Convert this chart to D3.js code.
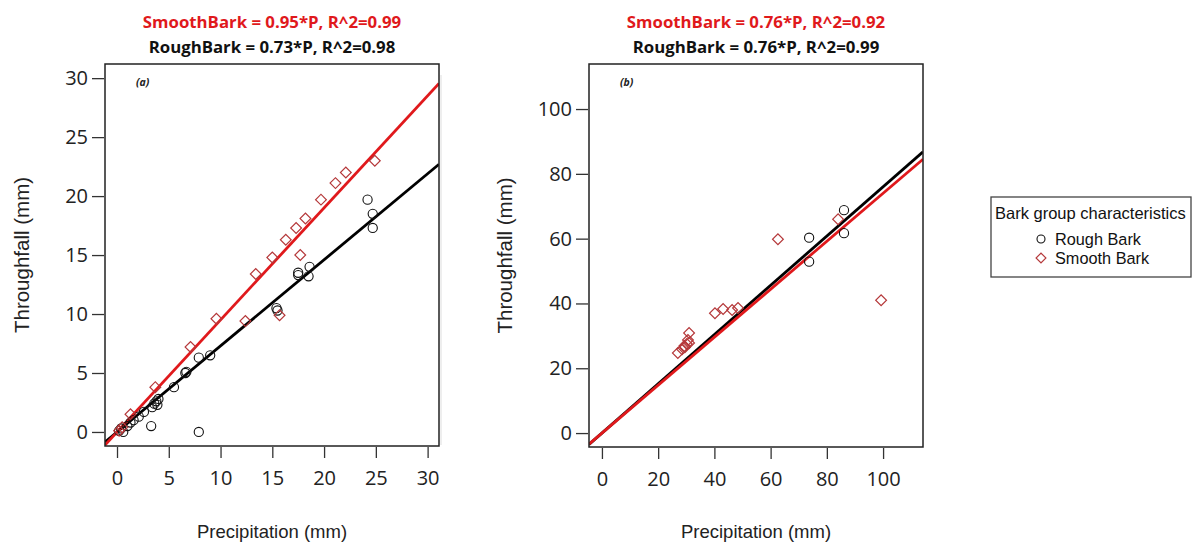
<!DOCTYPE html>
<html>
<head>
<meta charset="utf-8">
<script src="https://cdn.jsdelivr.net/npm/d3@7"></script>
<style>
  body { margin: 0; background: #fff; }
  svg { display: block; }
  .tick text { font-family: "Open Sans", sans-serif; fill: #222; }
</style>
</head>
<body>
<div id="chart"></div>
<script>
// panel (a) values
let roughA = [[0.2,0.1],[0.4,0.3],[0.6,0.0],[1.0,0.5],[1.3,0.8],[1.6,1.0],[2.1,1.3],[2.6,1.7],
  [3.3,0.5],[3.4,2.1],[3.6,2.4],[3.8,2.6],[3.9,2.3],[4.0,2.8],[5.5,3.8],[6.6,5.0],[6.7,5.1],
  [7.9,6.3],[7.9,0.0],[9.0,6.5],[15.4,10.5],[15.5,10.3],[17.5,13.5],[17.5,13.3],[18.5,13.2],
  [18.6,14.0],[24.2,19.7],[24.7,18.5],[24.7,17.3]]
let smoothA = [[0.2,0.1],[0.5,0.4],[1.3,1.5],[3.7,3.8],[7.1,7.2],[9.6,9.6],[12.4,9.4],[13.4,13.4],
  [15.0,14.8],[15.7,9.9],[16.3,16.3],[17.3,17.3],[17.7,15.0],[18.2,18.1],[19.7,19.7],[21.1,21.1],
  [22.1,22.0],[24.9,23.0]]

// panel (b)
let roughB = [[73.7,60.3],[73.7,52.9],[86.1,68.8],[86.1,61.7]]
let smoothB = [[27.0,24.7],[28.5,25.9],[29.3,26.9],[29.5,26.5],[30.2,27.5],[30.6,28.7],[31.0,27.8],
  [31.0,30.9],[40.2,37.0],[43.1,38.3],[46.3,38.0],[48.4,38.6],[62.6,59.8],[84.0,66.0],[99.3,41.0]]

let slopesA = {rough: 0.73, smooth: 0.95}
let slopesB = {rough: 0.76, smooth: 0.74}

let titlesA = ["SmoothBark = 0.95*P, R^2=0.99", "RoughBark = 0.73*P, R^2=0.98"]
let titlesB = ["SmoothBark = 0.76*P, R^2=0.92", "RoughBark = 0.76*P, R^2=0.99"]

let ticksA = [0, 5, 10, 15, 20, 25, 30]
let ticksBx = [0, 20, 40, 60, 80, 100]
let ticksBy = [0, 20, 40, 60, 80, 100]

let legendItems = ["Rough Bark", "Smooth Bark"]

let width = 1193
let height = 544

let red = "#e0191c"
let diamondColor = "#b5383a"

var svg = d3.select("#chart")
    .append("svg")
    .attr("width", width)
    .attr("height", height)

function panel(opt){
    let x = d3.scaleLinear().domain(opt.xDomain).range([opt.left, opt.right])
    let y = d3.scaleLinear().domain(opt.yDomain).range([opt.bottom, opt.top])
    let g = svg.append("g")
    let clipId = "clip" + opt.key

    g.append("clipPath").attr("id", clipId)
        .append("rect")
        .attr("x", opt.left).attr("y", opt.top)
        .attr("width", opt.right - opt.left).attr("height", opt.bottom - opt.top)

    // axes R style
    let xAxis = d3.axisBottom(x).tickValues(opt.xTicks).tickSize(11).tickPadding(13)
    let yAxis = d3.axisLeft(y).tickValues(opt.yTicks).tickSize(12).tickPadding(4)

    g.append("g")
        .attr("transform", `translate(0, ${opt.bottom + 1})`)
        .call(xAxis)
        .call(a => a.select(".domain").remove())
        .call(a => a.selectAll("line").attr("stroke", "#333").attr("stroke-width", 1.3))
        .call(a => a.selectAll("text").attr("font-size", 20))

    g.append("g")
        .attr("transform", `translate(${opt.left - 1}, 0)`)
        .call(yAxis)
        .call(a => a.select(".domain").remove())
        .call(a => a.selectAll("line").attr("stroke", "#333").attr("stroke-width", 1.3))
        .call(a => a.selectAll("text").attr("font-size", 20))

    // regression lines
    let lines = g.append("g").attr("clip-path", `url(#${clipId})`)
    let xs = opt.xDomain
    lines.append("line")
        .attr("x1", x(xs[0])).attr("y1", y(xs[0] * opt.slopes.rough))
        .attr("x2", x(xs[1])).attr("y2", y(xs[1] * opt.slopes.rough))
        .attr("stroke", "#000").attr("stroke-width", 2.8)
    lines.append("line")
        .attr("x1", x(xs[0])).attr("y1", y(xs[0] * opt.slopes.smooth))
        .attr("x2", x(xs[1])).attr("y2", y(xs[1] * opt.slopes.smooth))
        .attr("stroke", red).attr("stroke-width", 2.8)

    // points
    g.selectAll(null).data(opt.rough).enter()
        .append("circle")
        .attr("cx", d => x(d[0]))
        .attr("cy", d => y(d[1]))
        .attr("r", 4.6)
        .attr("fill", "none")
        .attr("stroke", "#111")
        .attr("stroke-width", 1.1)

    g.selectAll(null).data(opt.smooth).enter()
        .append("path")
        .attr("d", d3.symbol().type(d3.symbolSquare).size(58))
        .attr("transform", d => `translate(${x(d[0])}, ${y(d[1])}) rotate(45)`)
        .attr("fill", "none")
        .attr("stroke", diamondColor)
        .attr("stroke-width", 1.2)

    // box
    g.append("rect")
        .attr("x", opt.left).attr("y", opt.top)
        .attr("width", opt.right - opt.left).attr("height", opt.bottom - opt.top)
        .attr("fill", "none")
        .attr("stroke", "#222")
        .attr("stroke-width", 1.5)

    // titles
    let cx = (opt.left + opt.right) / 2
    g.append("text")
        .attr("x", cx).attr("y", 28)
        .attr("text-anchor", "middle")
        .attr("font-family", "Open Sans, sans-serif")
        .attr("font-weight", "bold")
        .attr("font-size", 16.8)
        .attr("fill", red)
        .text(opt.titles[0])
    g.append("text")
        .attr("x", cx).attr("y", 53)
        .attr("text-anchor", "middle")
        .attr("font-family", "Open Sans, sans-serif")
        .attr("font-weight", "bold")
        .attr("font-size", 16.8)
        .attr("fill", "#111")
        .text(opt.titles[1])

    g.append("text")
        .attr("x", opt.left + 31).attr("y", 86)
        .attr("font-family", "Open Sans, sans-serif")
        .attr("font-weight", "bold")
        .attr("font-style", "italic")
        .attr("font-size", 10.5)
        .attr("fill", "#222")
        .text(opt.tag)

    // axis labels
    g.append("text")
        .attr("x", cx).attr("y", 538)
        .attr("text-anchor", "middle")
        .attr("font-family", "Liberation Sans, Arial, sans-serif")
        .attr("font-size", 18.5)
        .attr("fill", "#222")
        .text("Precipitation (mm)")
    g.append("text")
        .attr("transform", `translate(${opt.yLabelX}, ${(opt.top + opt.bottom) / 2}) rotate(-90)`)
        .attr("text-anchor", "middle")
        .attr("font-family", "Liberation Sans, Arial, sans-serif")
        .attr("font-size", 20.5)
        .attr("fill", "#222")
        .text("Throughfall (mm)")
}

panel({
    tag: "(a)", key: "a", left: 105, right: 439, top: 64, bottom: 446,
    xDomain: [-1.16, 31.1], yDomain: [-1.19, 31.2],
    xTicks: ticksA, yTicks: ticksA,
    rough: roughA, smooth: smoothA, slopes: slopesA, titles: titlesA,
    yLabelX: 29
})

panel({
    tag: "(b)", key: "b", left: 589, right: 923, top: 64, bottom: 447,
    xDomain: [-4.6, 114.2], yDomain: [-4.3, 113.9],
    xTicks: ticksBx, yTicks: ticksBy,
    rough: roughB, smooth: smoothB, slopes: slopesB, titles: titlesB,
    yLabelX: 512
})

// faint separator left of panel b
svg.append("line")
    .attr("x1", 441).attr("x2", 441).attr("y1", 75).attr("y2", 445)
    .attr("stroke", "#ddd").attr("stroke-width", 1)

// legend
let legend = svg.append("g")
legend.append("rect")
    .attr("x", 991).attr("y", 197).attr("width", 200).attr("height", 80)
    .attr("fill", "#fff").attr("stroke", "#444").attr("stroke-width", 1.3)
legend.append("text")
    .attr("x", 995).attr("y", 219)
    .attr("font-family", "Liberation Sans, Arial, sans-serif")
    .attr("font-size", 16.5).attr("fill", "#111")
    .text("Bark group characteristics")

legendItems.forEach(function(name, i){
    let ly = 239 + i * 19
    if(i === 0){
        legend.append("circle").attr("cx", 1041).attr("cy", ly).attr("r", 4)
            .attr("fill", "none").attr("stroke", "#111").attr("stroke-width", 1.1)
    } else {
        legend.append("path")
            .attr("d", d3.symbol().type(d3.symbolSquare).size(48))
            .attr("transform", `translate(1041, ${ly}) rotate(45)`)
            .attr("fill", "none").attr("stroke", diamondColor).attr("stroke-width", 1.2)
    }
    legend.append("text")
        .attr("x", 1055).attr("y", ly + 6)
        .attr("font-family", "Liberation Sans, Arial, sans-serif")
        .attr("font-size", 16.3).attr("fill", "#111")
        .text(name)
})
</script>
</body>
</html>
